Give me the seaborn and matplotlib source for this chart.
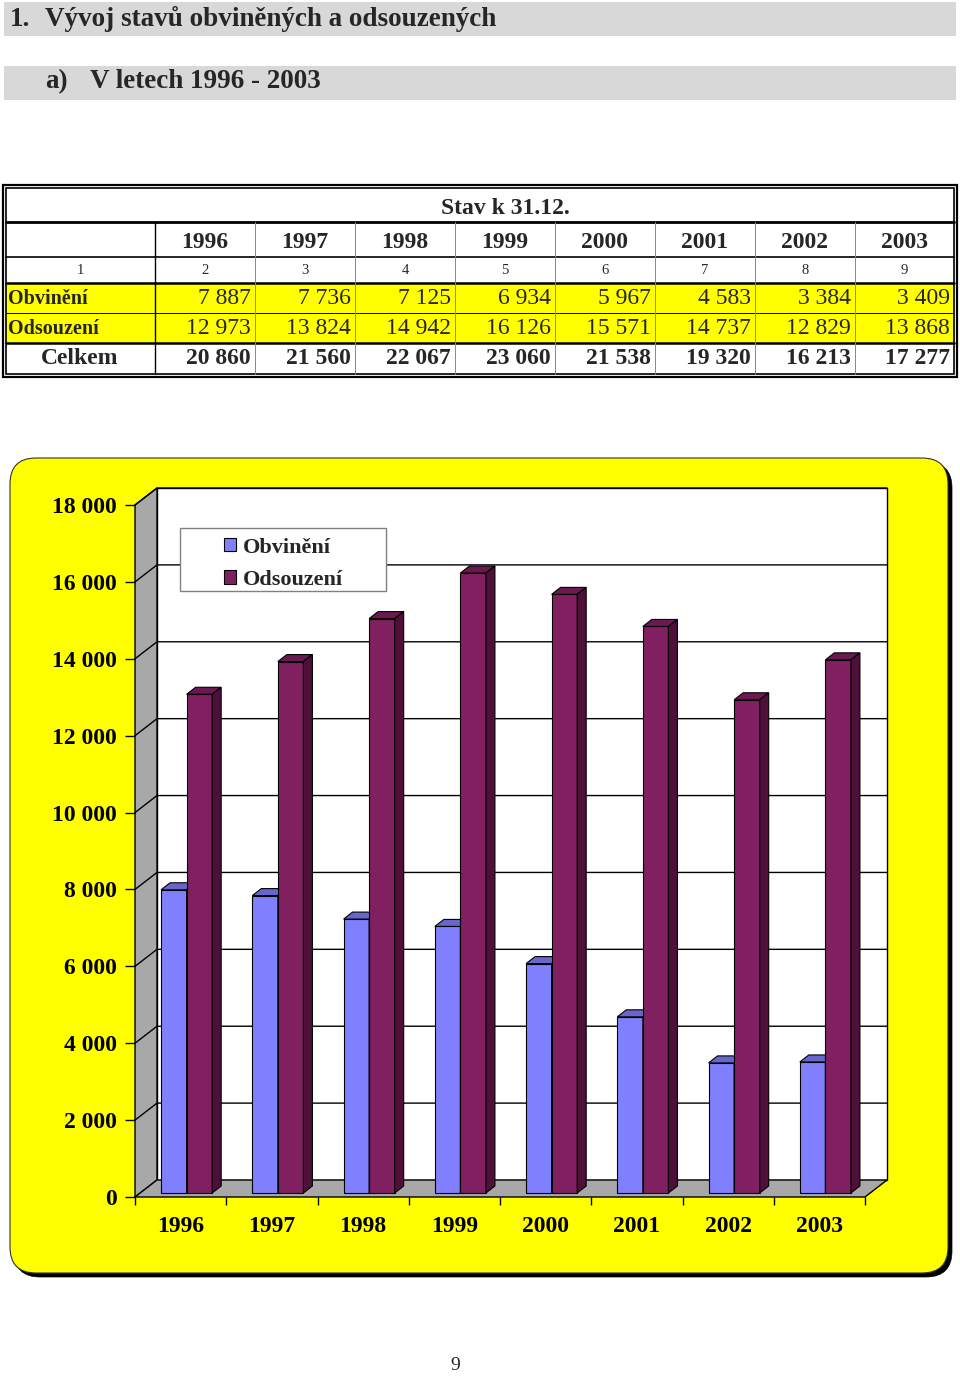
import numpy as np
import pandas as pd
import matplotlib
matplotlib.use("Agg")
import matplotlib.pyplot as plt
import seaborn as sns
from matplotlib.patches import Rectangle, FancyBboxPatch, Polygon
from matplotlib.lines import Line2D
from matplotlib.transforms import offset_copy, IdentityTransform
from matplotlib.ticker import FuncFormatter, FixedLocator

# ---------------- data ----------------
years = ["1996", "1997", "1998", "1999", "2000", "2001", "2002", "2003"]
obvineni = [7887, 7736, 7125, 6934, 5967, 4583, 3384, 3409]
odsouzeni = [12973, 13824, 14942, 16126, 15571, 14737, 12829, 13868]
celkem = [20860, 21560, 22067, 23060, 21538, 19320, 16213, 17277]
col_numbers = ["1", "2", "3", "4", "5", "6", "7", "8", "9"]
series_names = ["Obvinění", "Odsouzení"]
row_labels = ["Obvinění", "Odsouzení", "Celkem"]
y_ticks = [0, 2000, 4000, 6000, 8000, 10000, 12000, 14000, 16000, 18000]
title1_num = "1."
title1 = "Vývoj stavů obviněných a odsouzených"
title2_num = "a)"
title2 = "V letech 1996 - 2003"
table_title = "Stav k 31.12."
page_number = "9"

BLUE = "#8080FF"
PURPLE = "#802060"
BLUE_TOP, BLUE_SIDE = "#6666CC", "#5050A0"
PURPLE_TOP, PURPLE_SIDE = "#6A1A50", "#4E1039"
WALL = "#A8A8A8"

def fmt(v):
    return f"{v:,}".replace(",", " ")

sns.set_style("white")
plt.rcParams["font.family"] = ["Liberation Serif", "DejaVu Serif"]

W, H = 960, 1378
fig = plt.figure(figsize=(W / 100, H / 100), dpi=100)
fig.patch.set_facecolor("white")

bg = fig.add_axes([0, 0, 1, 1], zorder=0)
bg.set_xlim(0, W)
bg.set_ylim(H, 0)
bg.axis("off")

# ---------------- headings ----------------
for (y0, h) in [(2, 34), (66, 34)]:
    bg.add_patch(Rectangle((4, y0), 952, h, fc="#D8D8D8", ec="none"))
bg.text(10, 19, title1_num, fontsize=19.5, fontweight="bold", va="center")
bg.text(45, 19, title1, fontsize=19.5, fontweight="bold", va="center")
bg.text(45, 82, title2_num, fontsize=19.5, fontweight="bold", va="center")
bg.text(90, 82, title2, fontsize=19.5, fontweight="bold", va="center")

# ---------------- table ----------------
rows_y = [188, 222, 257, 283, 313, 343, 374]
cols_x = [6, 155, 255, 355, 455, 555, 655, 755, 855, 954]
bg.add_patch(Rectangle((6, 283), 948, 60, fc="#FFFF00", ec="none"))
bg.add_patch(Rectangle((3, 185), 954, 192, fc="none", ec="black", lw=1.6))
bg.add_patch(Rectangle((6, 188), 948, 186, fc="none", ec="black", lw=1.2))
for y, lw in zip(rows_y[1:-1], [2.0, 1.2, 1.8, 0.7, 1.8]):
    bg.plot([6, 954], [y, y], color="black", lw=lw)
for i, x in enumerate(cols_x[1:-1]):
    bg.plot([x, x], [222, 374], color="black" if i == 0 else "#888888",
            lw=1.0 if i == 0 else 0.7)

bg.text(505, 208, table_title, fontsize=17, fontweight="bold", ha="center", va="center")
centers = [(cols_x[i] + cols_x[i + 1]) / 2 for i in range(9)]
for i, yr in enumerate(years):
    bg.text(centers[i + 1], 242, yr, fontsize=17, fontweight="bold", ha="center", va="center")
for i, n in enumerate(col_numbers):
    bg.text(centers[i] if i else 80, 271, n, fontsize=10.5, ha="center", va="center")
bg.text(8, 299, row_labels[0], fontsize=14.5, fontweight="bold", ha="left", va="center")
bg.text(8, 329, row_labels[1], fontsize=14.5, fontweight="bold", ha="left", va="center")
bg.text(80, 359, row_labels[2], fontsize=17, fontweight="bold", ha="center", va="center")
for i in range(8):
    xr = cols_x[i + 2] - 4
    bg.text(xr, 299, fmt(obvineni[i]), fontsize=17, ha="right", va="center")
    bg.text(xr, 329, fmt(odsouzeni[i]), fontsize=17, ha="right", va="center")
    bg.text(xr, 359, fmt(celkem[i]), fontsize=17, fontweight="bold", ha="right", va="center")

# ---------------- chart box ----------------
bg.add_patch(FancyBboxPatch((14, 462), 938, 815, boxstyle="round,pad=0,rounding_size=26",
                            fc="black", ec="black", lw=0.5))
bg.add_patch(FancyBboxPatch((10, 458), 938, 815, boxstyle="round,pad=0,rounding_size=26",
                            fc="#FFFF00", ec="#333333", lw=0.8))

bg.text(455, 1365, page_number, fontsize=14, ha="center", va="center")

# ---------------- chart ----------------
ax = fig.add_axes([135 / W, (H - 1197) / H, 730 / W, 692 / H], zorder=1)
ax.set_facecolor("none")

df = pd.DataFrame({
    "Rok": years * 2,
    "Řada": [s for s in series_names for _ in years],
    "Počet": obvineni + odsouzeni,
})
sns.barplot(data=df, x="Rok", y="Počet", hue="Řada", palette=[BLUE, PURPLE],
            saturation=1, width=0.56, edgecolor="black", linewidth=0.8,
            ax=ax, legend=False)
ax.set_xlim(-0.5, 7.5)
ax.set_ylim(0, 18000)
ax.set_xlabel("")
ax.set_ylabel("")
for s in ax.spines.values():
    s.set_visible(False)

DX, DY = 22, 17      # wall depth (pixels)
BX, BY = 6, 4        # bar offset into depth
dx, dy = 9, 7        # bar depth

ident = IdentityTransform()
x0d, y0d = ax.transData.transform((-0.5, 0))
x1d, y1d = ax.transData.transform((7.5, 18000))

walls = [
    ([(x0d + DX, y0d + DY), (x1d + DX, y0d + DY), (x1d + DX, y1d + DY), (x0d + DX, y1d + DY)], "white"),
    ([(x0d, y0d), (x0d + DX, y0d + DY), (x0d + DX, y1d + DY), (x0d, y1d)], WALL),
    ([(x0d, y0d), (x0d + DX, y0d + DY), (x1d + DX, y0d + DY), (x1d, y0d)], WALL),
]
for pts, c in walls:
    ax.add_patch(Polygon(pts, closed=True, fc=c, ec="black", lw=1.0,
                         transform=ident, clip_on=False, zorder=0.5))
for t in y_ticks[1:]:
    ty = ax.transData.transform((0, t))[1]
    ax.add_line(Line2D([x0d, x0d + DX, x1d + DX], [ty, ty + DY, ty + DY], color="black",
                       lw=1.0, transform=ident, clip_on=False, zorder=0.6))

bar_trans = offset_copy(ax.transData, fig=fig, x=BX, y=BY, units="dots")
face_cols = [(BLUE_TOP, BLUE_SIDE), (PURPLE_TOP, PURPLE_SIDE)]
for k, cont in enumerate(ax.containers):
    for p in cont.patches:
        p.set_transform(bar_trans)
        p.set_zorder(3 + k)
        p.set_clip_on(False)
        bx0, by0 = p.get_x(), p.get_y()
        bx1, by1 = bx0 + p.get_width(), by0 + p.get_height()
        (a0, b0) = bar_trans.transform((bx0, by0))
        (a1, b1) = bar_trans.transform((bx1, by1))
        top = [(a0, b1), (a0 + dx, b1 + dy), (a1 + dx, b1 + dy), (a1, b1)]
        side = [(a1, b0), (a1 + dx, b0 + dy), (a1 + dx, b1 + dy), (a1, b1)]
        ax.add_patch(Polygon(top, closed=True, fc=face_cols[k][0], ec="black", lw=0.8,
                             transform=ident, clip_on=False, zorder=3 + k))
        ax.add_patch(Polygon(side, closed=True, fc=face_cols[k][1], ec="black", lw=0.8,
                             transform=ident, clip_on=False, zorder=3 + k))

ax.yaxis.set_major_locator(FixedLocator(y_ticks))
ax.yaxis.set_major_formatter(FuncFormatter(lambda v, pos: fmt(int(v))))
ax.tick_params(axis="y", left=True, length=7, width=1, color="black", pad=6,
               labelsize=17, labelcolor="black")
for lab in ax.get_yticklabels():
    lab.set_fontweight("bold")
ax.set_xticks(range(len(years)))
ax.set_xticklabels(years)
ax.set_xticks(np.arange(-0.5, 8, 1), minor=True)
ax.tick_params(axis="x", which="major", bottom=True, length=0, pad=14,
               labelsize=17, labelcolor="black")
ax.tick_params(axis="x", which="minor", bottom=True, length=6, width=1, color="black")
for lab in ax.get_xticklabels():
    lab.set_fontweight("bold")

# legend (box drawn in pixel coordinates, above the walls)
ax.add_patch(Rectangle((180, H - 591), 206, 63, fc="white", ec="#808080", lw=1.0,
                       transform=ident, clip_on=False, zorder=8))
leg = ax.legend(handles=list(ax.containers), labels=series_names,
                loc="upper left", bbox_to_anchor=(208 / W, 1 - 522 / H),
                bbox_transform=fig.transFigure, frameon=False,
                handlelength=0.55, handleheight=0.55, handletextpad=0.3,
                labelspacing=0.55, borderpad=0.2,
                prop={"family": ["Liberation Serif"], "weight": "bold", "size": 16})
leg.set_zorder(10)

fig.savefig("out.png", dpi=100)
